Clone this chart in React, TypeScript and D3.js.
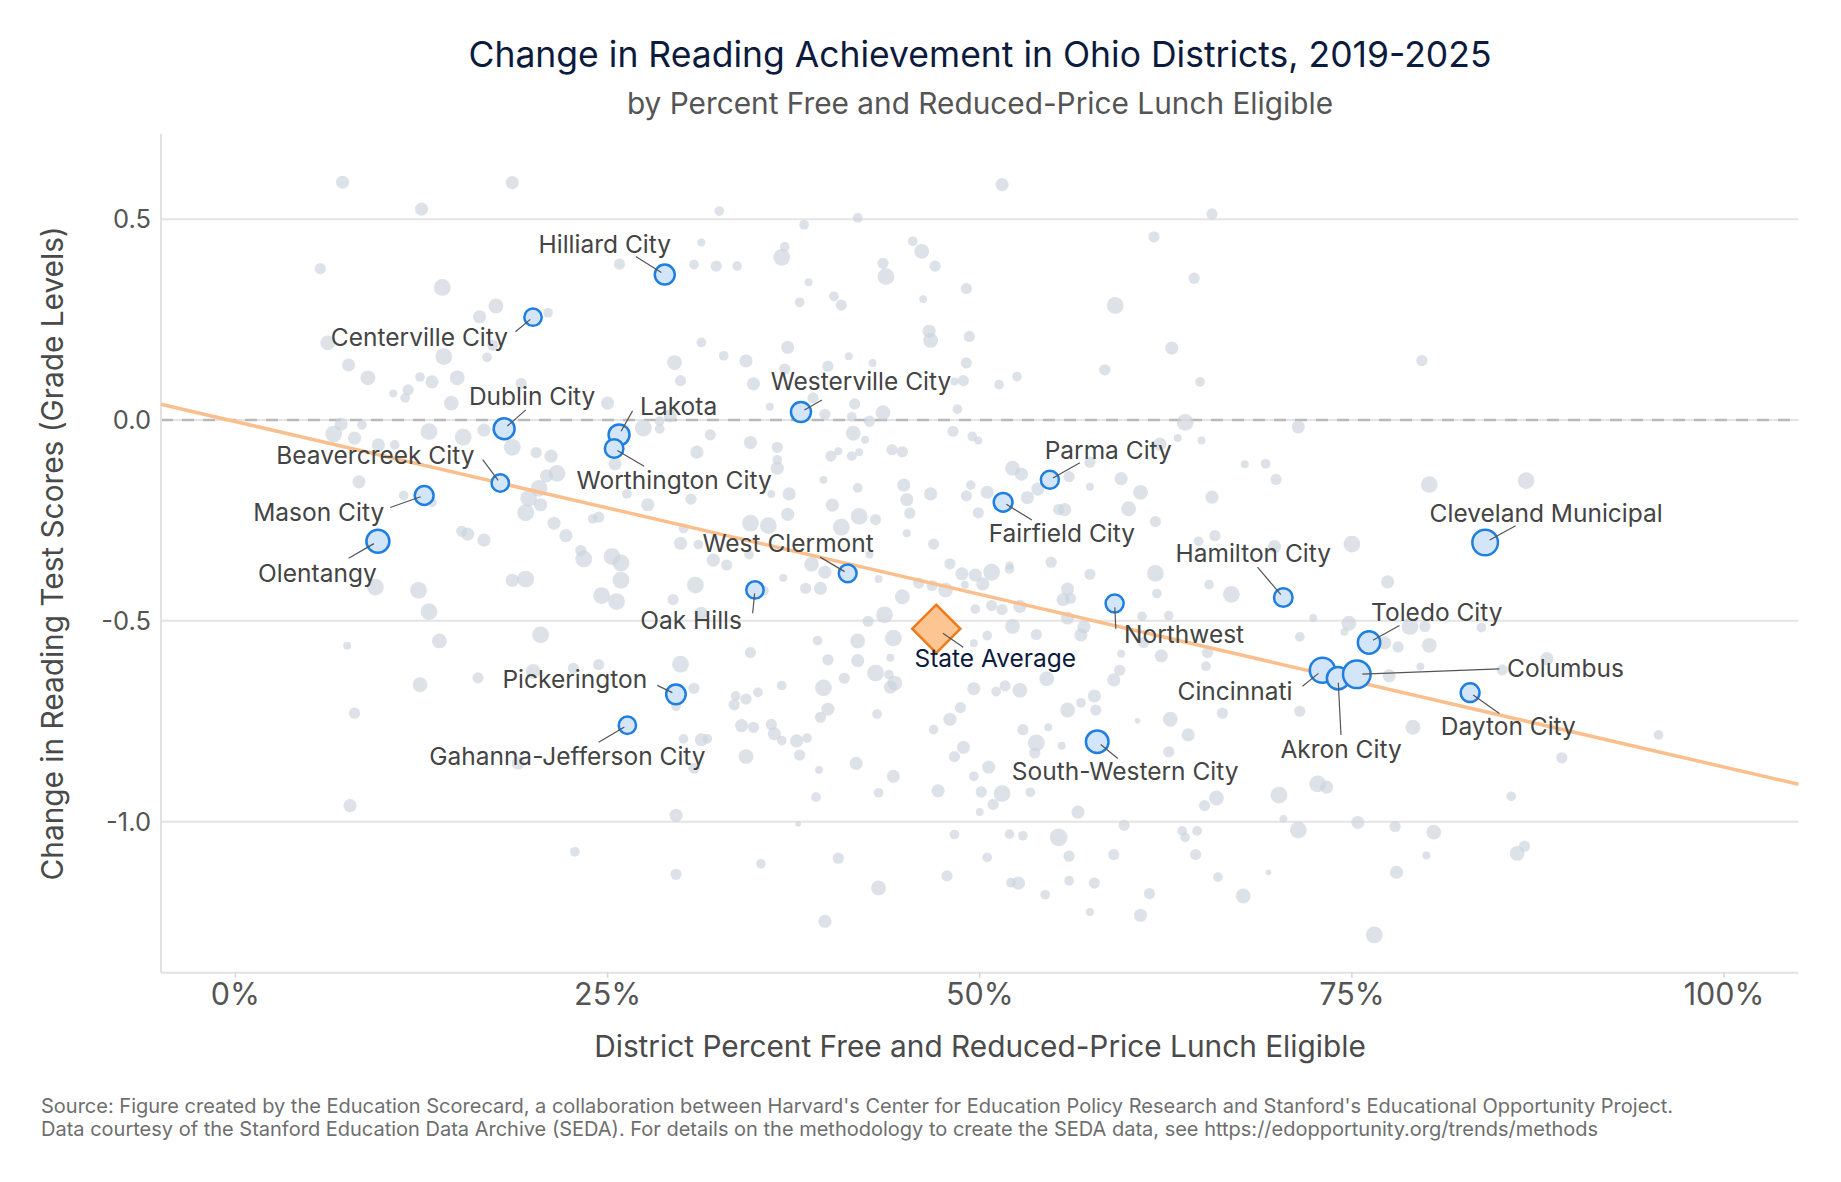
import React from 'react';
import * as d3 from 'd3';

// ---------- DATA ----------
const xTicks = [0, 0.25, 0.5, 0.75, 1];
const yTicks = [0.5, 0, -0.5, -1];

// Regression trend
const trendIntercept = -0.004;
const trendSlope = -0.86;

// Other districts: [percent FRL (0-100), change in grade levels, enrollment (thousands)]
const otherDistricts: [number, number, number][] = [
  [7.2, 0.592, 11], [18.6, 0.591, 11], [12.5, 0.525, 11], [5.7, 0.377, 8], [13.9, 0.33, 18],
  [17.5, 0.284, 14], [16.4, 0.257, 11], [21.0, 0.267, 6], [25.8, 0.388, 8], [30.8, 0.387, 6],
  [31.3, 0.442, 4], [6.2, 0.192, 14], [7.6, 0.137, 11], [8.9, 0.105, 14], [14.0, 0.158, 18],
  [16.9, 0.156, 6], [12.4, 0.107, 6], [13.2, 0.095, 11], [14.9, 0.105, 14], [11.6, 0.075, 8],
  [10.6, 0.066, 4], [11.4, 0.055, 6], [14.5, 0.042, 14], [19.2, 0.091, 8], [25.0, 0.042, 11],
  [29.5, 0.143, 14], [29.9, 0.098, 8], [31.3, 0.193, 6], [17.3, 0.186, 8], [7.1, -0.01, 11],
  [6.6, -0.035, 18], [8.5, -0.012, 6], [8.0, -0.045, 11], [9.6, -0.062, 11], [10.7, -0.062, 6],
  [13.0, -0.029, 18], [15.3, -0.043, 18], [16.7, -0.025, 11], [18.6, -0.068, 18], [20.2, -0.081, 8],
  [21.2, -0.09, 11], [27.4, -0.02, 18], [28.5, -0.022, 6], [28.5, -0.003, 6], [29.2, 0.01, 11],
  [31.0, -0.08, 11], [25.5, -0.109, 11], [8.3, -0.154, 11], [11.3, -0.188, 6], [13.2, -0.205, 6],
  [20.9, -0.139, 11], [21.6, -0.133, 18], [20.4, -0.17, 18], [19.7, -0.195, 18], [20.5, -0.211, 11],
  [19.5, -0.231, 18], [21.4, -0.257, 11], [22.2, -0.288, 11], [24.0, -0.246, 6], [24.4, -0.242, 8],
  [26.3, -0.184, 6], [27.7, -0.211, 11], [30.6, -0.197, 8], [30.1, -0.27, 6], [29.9, -0.307, 11],
  [15.2, -0.277, 8], [15.6, -0.284, 11], [16.7, -0.299, 11], [23.2, -0.325, 8], [31.1, -0.31, 6],
  [9.4, -0.416, 18], [12.3, -0.424, 18], [13.0, -0.477, 18], [18.6, -0.399, 11], [19.5, -0.396, 18],
  [23.4, -0.346, 18], [25.3, -0.34, 18], [25.9, -0.356, 18], [25.9, -0.399, 18], [24.6, -0.437, 18],
  [25.6, -0.452, 18], [29.4, -0.447, 8], [30.9, -0.411, 18], [31.3, -0.481, 11], [7.5, -0.562, 4],
  [13.7, -0.55, 14], [20.5, -0.535, 18], [12.4, -0.659, 14], [16.3, -0.642, 8], [8.0, -0.73, 8],
  [20.0, -0.626, 14], [22.7, -0.618, 8], [24.4, -0.609, 8], [29.9, -0.608, 18], [30.8, -0.668, 8],
  [29.6, -0.713, 6], [30.1, -0.794, 6], [31.3, -0.796, 11], [30.8, -0.867, 8], [19.0, -0.854, 11],
  [7.7, -0.96, 11], [29.6, -0.984, 11], [22.8, -1.075, 6], [29.6, -1.131, 8],
  [51.5, 0.586, 11], [32.5, 0.52, 6], [41.8, 0.503, 6], [38.2, 0.486, 6], [65.6, 0.513, 8],
  [61.7, 0.456, 8], [36.9, 0.431, 6], [36.7, 0.405, 18], [32.3, 0.383, 8], [33.7, 0.383, 6],
  [45.5, 0.445, 6], [46.1, 0.42, 14], [43.5, 0.39, 8], [43.7, 0.357, 18], [47.0, 0.383, 8],
  [38.5, 0.343, 4], [49.1, 0.327, 8], [40.2, 0.308, 6], [40.7, 0.286, 8], [37.9, 0.293, 6],
  [46.2, 0.301, 4], [64.4, 0.353, 8], [59.1, 0.285, 18], [46.6, 0.221, 11], [46.7, 0.198, 14],
  [49.3, 0.208, 8], [62.9, 0.179, 11], [37.1, 0.181, 11], [32.8, 0.16, 6], [34.3, 0.147, 11],
  [41.2, 0.159, 4], [39.8, 0.134, 8], [42.8, 0.142, 4], [49.1, 0.142, 8], [36.9, 0.127, 8],
  [58.4, 0.125, 8], [52.5, 0.108, 6], [51.3, 0.088, 6], [48.9, 0.098, 8], [48.3, 0.096, 4],
  [64.8, 0.095, 6], [34.8, 0.09, 11], [35.9, 0.033, 4], [38.8, 0.055, 8], [39.6, 0.014, 8],
  [41.6, 0.04, 8], [41.4, 0.008, 6], [43.5, 0.018, 14], [42.6, -0.003, 8], [48.5, 0.027, 6],
  [63.8, -0.006, 18], [31.9, -0.037, 8], [34.6, -0.056, 11], [36.4, -0.068, 8], [41.5, -0.033, 14],
  [42.3, -0.049, 4], [40.5, -0.078, 4], [40.0, -0.09, 8], [41.4, -0.09, 6], [41.9, -0.08, 4],
  [44.1, -0.074, 8], [44.8, -0.079, 8], [48.2, -0.028, 8], [49.5, -0.041, 6], [49.9, -0.051, 4],
  [63.3, -0.045, 4], [64.9, -0.051, 4], [36.4, -0.099, 6], [36.4, -0.12, 11], [36.0, -0.184, 4],
  [37.2, -0.184, 11], [39.5, -0.149, 4], [41.8, -0.169, 6], [44.9, -0.162, 11], [45.1, -0.198, 11],
  [46.7, -0.184, 11], [45.3, -0.232, 8], [40.1, -0.212, 11], [41.9, -0.24, 18], [43.0, -0.248, 8],
  [37.1, -0.235, 11], [34.6, -0.257, 18], [35.8, -0.263, 18], [40.7, -0.267, 18], [45.1, -0.282, 4],
  [46.9, -0.309, 8], [49.4, -0.162, 6], [49.1, -0.189, 8], [50.5, -0.18, 11], [49.9, -0.231, 8],
  [52.2, -0.12, 14], [52.8, -0.135, 11], [53.2, -0.193, 11], [53.9, -0.172, 11], [56.0, -0.141, 8],
  [57.4, -0.166, 4], [57.4, -0.105, 8], [59.5, -0.146, 11], [60.8, -0.18, 14], [60.0, -0.221, 14],
  [55.3, -0.223, 8], [55.7, -0.223, 11], [61.8, -0.253, 8], [65.6, -0.192, 11], [67.8, -0.11, 4],
  [65.8, -0.288, 8], [64.7, -0.302, 6], [62.1, -0.06, 11],
  [79.7, 0.148, 8], [71.4, -0.017, 11], [69.2, -0.109, 6], [69.9, -0.148, 8], [80.2, -0.161, 18],
  [86.7, -0.151, 18], [75.0, -0.309, 18], [69.8, -0.315, 11],
  [32.1, -0.349, 11], [33.0, -0.361, 8], [34.5, -0.335, 6], [38.7, -0.359, 14], [39.6, -0.379, 11],
  [36.8, -0.393, 4], [35.5, -0.425, 6], [38.3, -0.419, 8], [39.3, -0.419, 11], [43.2, -0.396, 4],
  [42.6, -0.335, 4], [44.8, -0.44, 14], [45.9, -0.406, 8], [46.8, -0.412, 8], [47.7, -0.423, 14],
  [48.0, -0.358, 8], [48.8, -0.383, 11], [49.0, -0.41, 4], [49.7, -0.386, 11], [50.2, -0.408, 11],
  [50.8, -0.379, 18], [52.0, -0.371, 6], [52.0, -0.362, 4], [54.8, -0.354, 8], [57.4, -0.384, 8],
  [55.9, -0.421, 11], [55.6, -0.447, 11], [56.1, -0.444, 8], [55.9, -0.493, 11], [57.0, -0.515, 11],
  [56.8, -0.535, 11], [61.8, -0.382, 18], [61.9, -0.432, 6], [65.4, -0.41, 6], [66.9, -0.434, 18],
  [60.9, -0.489, 6], [62.7, -0.487, 6], [61.0, -0.554, 8], [59.5, -0.582, 4], [59.4, -0.623, 8],
  [59.0, -0.647, 11], [62.2, -0.587, 11], [65.3, -0.579, 8], [65.2, -0.613, 6], [66.3, -0.73, 8],
  [62.8, -0.745, 14], [64.0, -0.784, 11], [60.6, -0.749, 2], [62.7, -0.826, 8], [57.7, -0.687, 11],
  [56.8, -0.704, 6], [57.8, -0.722, 8], [55.9, -0.722, 14], [54.5, -0.644, 14], [52.7, -0.673, 14],
  [51.7, -0.662, 8], [51.1, -0.676, 6], [49.6, -0.669, 11], [48.7, -0.716, 8], [48.0, -0.745, 11],
  [46.9, -0.771, 6], [48.9, -0.815, 11], [48.3, -0.838, 8], [50.6, -0.864, 11], [49.6, -0.887, 6],
  [52.9, -0.771, 8], [54.6, -0.765, 4], [53.8, -0.804, 18], [53.7, -0.829, 8], [55.5, -0.811, 4],
  [52.2, -0.514, 14], [53.8, -0.534, 8], [50.5, -0.537, 6], [49.6, -0.556, 4], [52.7, -0.464, 11],
  [51.5, -0.472, 8], [49.7, -0.471, 6], [50.8, -0.462, 8], [43.6, -0.485, 18], [42.5, -0.501, 8],
  [44.2, -0.543, 18], [41.8, -0.55, 14], [39.1, -0.549, 6], [34.6, -0.579, 8], [39.8, -0.597, 8],
  [41.8, -0.599, 11], [44.0, -0.592, 4], [43.0, -0.63, 18], [43.9, -0.634, 6], [44.3, -0.655, 14],
  [44.0, -0.665, 11], [40.9, -0.643, 8], [39.5, -0.667, 18], [36.7, -0.661, 6], [35.1, -0.678, 6],
  [34.3, -0.695, 8], [33.6, -0.687, 6], [33.5, -0.709, 8], [39.8, -0.72, 11], [39.3, -0.74, 8],
  [43.1, -0.732, 6], [34.0, -0.761, 11], [34.8, -0.765, 8], [36.0, -0.758, 8], [36.2, -0.781, 11],
  [36.7, -0.798, 6], [37.7, -0.799, 11], [38.4, -0.792, 6], [31.7, -0.794, 6], [34.3, -0.838, 14],
  [37.9, -0.834, 8], [39.2, -0.871, 4], [41.7, -0.855, 11], [44.2, -0.887, 11], [43.2, -0.928, 6],
  [39.0, -0.939, 6], [47.2, -0.923, 11], [50.1, -0.926, 8], [51.5, -0.93, 18], [50.9, -0.957, 8],
  [50.0, -0.976, 4], [53.4, -0.927, 6], [56.6, -0.976, 11], [59.7, -1.009, 8], [55.3, -1.039, 20],
  [52.9, -1.035, 6], [52.0, -1.031, 6], [48.3, -1.032, 6], [37.8, -1.005, 2], [35.3, -1.105, 6],
  [40.5, -1.091, 8], [50.5, -1.089, 6], [56.0, -1.086, 8], [59.0, -1.082, 8], [64.5, -1.082, 8],
  [63.6, -1.023, 6], [63.8, -1.039, 6], [64.6, -1.023, 6], [65.9, -0.941, 14], [65.1, -0.96, 8],
  [47.8, -1.135, 8], [43.2, -1.165, 14], [39.6, -1.248, 11], [52.1, -1.152, 6], [52.6, -1.153, 11],
  [56.0, -1.147, 6], [57.7, -1.153, 8], [54.4, -1.182, 6], [57.4, -1.225, 4], [60.8, -1.233, 11],
  [61.4, -1.179, 8], [66.0, -1.138, 6], [67.7, -1.185, 14],
  [77.4, -0.403, 11], [72.4, -0.493, 4], [74.8, -0.506, 14], [74.5, -0.527, 4], [71.5, -0.54, 6],
  [78.9, -0.514, 18], [79.9, -0.514, 8], [83.7, -0.517, 6], [77.2, -0.555, 11], [78.1, -0.565, 8],
  [80.2, -0.561, 14], [88.1, -0.594, 11], [79.6, -0.614, 4], [77.5, -0.637, 11], [85.1, -0.622, 8],
  [71.5, -0.725, 8], [79.1, -0.765, 14], [95.6, -0.784, 6], [89.1, -0.841, 8], [85.7, -0.937, 6],
  [72.7, -0.906, 18], [73.3, -0.914, 11], [70.1, -0.934, 18], [70.4, -0.993, 4], [71.4, -1.021, 18],
  [75.4, -1.002, 11], [77.9, -1.012, 8], [80.5, -1.026, 14], [80.0, -1.084, 4], [86.1, -1.079, 14],
  [86.6, -1.061, 8], [69.4, -1.126, 2], [78.0, -1.126, 11], [76.5, -1.282, 18],
];

// Highlighted districts
const districtNames = [
  'Hilliard City', 'Centerville City', 'Dublin City', 'Lakota', 'Worthington City',
  'Beavercreek City', 'Mason City', 'Olentangy', 'Westerville City', 'Parma City',
  'Fairfield City', 'Pickerington', 'Gahanna-Jefferson City', 'Oak Hills', 'West Clermont',
  'Northwest', 'South-Western City', 'Hamilton City', 'Toledo City', 'Cincinnati',
  'Akron City', 'Columbus', 'Dayton City', 'Cleveland Municipal',
];
const districtFrl = [
  28.84, 19.99, 18.05, 25.77, 25.44, 17.79, 12.68, 9.57, 37.99, 54.71,
  51.57, 29.59, 26.33, 34.90, 41.13, 59.06, 57.89, 70.39, 76.15, 73.02,
  74.07, 75.33, 82.94, 83.95,
];
const districtChange = [
  0.362, 0.256, -0.022, -0.037, -0.071, -0.157, -0.188, -0.302, 0.020, -0.149,
  -0.205, -0.683, -0.760, -0.423, -0.382, -0.457, -0.801, -0.442, -0.554, -0.623,
  -0.643, -0.633, -0.679, -0.305,
];
const districtEnroll = [
  25.5, 19.3, 28, 28, 22, 19.3, 22.5, 33.7, 25.5, 20.7,
  22.5, 24.5, 19.3, 19.3, 20.2, 20.7, 32.6, 22, 32, 40.5,
  32, 48.6, 22.5, 41.8,
];

const stateAverage = { name: 'State Average', frl: 47.08, change: -0.52 };

// ---------- LAYOUT ----------
const W = 1841;
const H = 1182;
const plot = { left: 161, right: 1798.5, top: 134, bottom: 972.7 };

// label placement: text offset from point (baseline), anchor, leader end offset
const labelLayout: Record<string, { dx: number; dy: number; anchor: string; lx: number; ly: number }> = {
  'Hilliard City': { dx: -60, dy: -21.4, anchor: 'middle', lx: -29, ly: -18 },
  'Centerville City': { dx: -25, dy: 29, anchor: 'end', lx: -17.6, ly: 14.6 },
  'Westerville City': { dx: 60, dy: -22, anchor: 'middle', lx: 21, ly: -12 },
  'Dublin City': { dx: 28, dy: -24, anchor: 'middle', lx: 21.7, ly: -19 },
  'Lakota': { dx: 21, dy: -20, anchor: 'start', lx: 13.5, ly: -24 },
  'Worthington City': { dx: 60, dy: 40, anchor: 'middle', lx: 30, ly: 17.7 },
  'Beavercreek City': { dx: -25.8, dy: -19.4, anchor: 'end', lx: -17.6, ly: -23.4 },
  'Mason City': { dx: -40, dy: 25.4, anchor: 'end', lx: -34, ly: 12 },
  'Olentangy': { dx: -60.5, dy: 40.4, anchor: 'middle', lx: -29.3, ly: 17 },
  'West Clermont': { dx: -59.6, dy: -21.3, anchor: 'middle', lx: -27.6, ly: -16.3 },
  'Oak Hills': { dx: -13, dy: 39.3, anchor: 'end', lx: -2.3, ly: 23.3 },
  'Pickerington': { dx: -28.7, dy: -6.7, anchor: 'end', lx: -18.7, ly: -9 },
  'Gahanna-Jefferson City': { dx: -60, dy: 39.3, anchor: 'middle', lx: -28.7, ly: 17 },
  'Parma City': { dx: 58.4, dy: -21, anchor: 'middle', lx: 30, ly: -17 },
  'Fairfield City': { dx: 58.7, dy: 39.4, anchor: 'middle', lx: 28.8, ly: 17.7 },
  'Northwest': { dx: 9.4, dy: 39.3, anchor: 'start', lx: 1.2, ly: 25.3 },
  'Hamilton City': { dx: -30, dy: -35.7, anchor: 'middle', lx: -25.8, ly: -30.3 },
  'Cleveland Municipal': { dx: 61, dy: -21, anchor: 'middle', lx: 30.5, ly: -16.7 },
  'Toledo City': { dx: 67.8, dy: -22, anchor: 'middle', lx: 30.5, ly: -17 },
  'Columbus': { dx: 150.3, dy: 2.6, anchor: 'start', lx: 142.6, ly: -5.3 },
  'Cincinnati': { dx: -30, dy: 29.3, anchor: 'end', lx: -20, ly: 16 },
  'Akron City': { dx: 3, dy: 80, anchor: 'middle', lx: 2.9, ly: 56.7 },
  'Dayton City': { dx: 38.2, dy: 42.3, anchor: 'middle', lx: 29.3, ly: 20.7 },
  'South-Western City': { dx: 28, dy: 38.3, anchor: 'middle', lx: 20.6, ly: 16.7 },
  'State Average': { dx: 59, dy: 38.3, anchor: 'middle', lx: 27, ly: 18.3 },
};

const FONT = 'Inter, "Noto Sans", sans-serif';

export default function App() {
  const x = d3.scaleLinear().domain([-0.05, 1.05]).range([plot.left, plot.right]);
  const y = d3.scaleLinear().domain([-1.376, 0.712]).range([plot.bottom, plot.top]);
  const r = d3.scaleSqrt().domain([0, 50]).range([0, 14]);
  const fmtY = (v: number) => (v < 0 ? '-' : '') + Math.abs(v).toFixed(1);
  const fmtX = d3.format('.0%');

  const trendX = x.domain();
  const trendLine = d3.line<number>()
    .x((d) => x(d))
    .y((d) => y(trendIntercept + trendSlope * d))(trendX);

  const highlighted = districtNames.map((name, i) => ({
    name,
    px: x(districtFrl[i] / 100),
    py: y(districtChange[i]),
    rr: r(districtEnroll[i]),
  }));

  const sa = { px: x(stateAverage.frl / 100), py: y(stateAverage.change), rr: 24 };
  const diamond = d3.symbol().type(d3.symbolSquare).size(34 * 34)();

  const leader = (px: number, py: number, rr: number, lx: number, ly: number) => {
    const len = Math.hypot(lx, ly) || 1;
    const sx = px + (lx / len) * rr * 0.4;
    const sy = py + (ly / len) * rr * 0.4;
    return { x1: sx, y1: sy, x2: px + lx, y2: py + ly };
  };

  return (
    <svg width={W} height={H} style={{ position: 'absolute', left: 0, top: 0, background: '#fff' }}
      fontFamily={FONT}>
      {/* Title */}
      <text x={980} y={67} textAnchor="middle" fontSize={35.5} fill="#0c1a3d">
        Change in Reading Achievement in Ohio Districts, 2019-2025
      </text>
      <text x={980} y={114} textAnchor="middle" fontSize={29.8} fill="#555">
        by Percent Free and Reduced-Price Lunch Eligible
      </text>

      {/* gridlines */}
      {yTicks.map((t) => (
        <line key={'g' + t} x1={plot.left} x2={plot.right} y1={y(t)} y2={y(t)} stroke="#e4e4e4" strokeWidth={2} />
      ))}
      <line x1={plot.left} x2={plot.right} y1={y(0)} y2={y(0)} stroke="#b9b9b9" strokeWidth={2.5} strokeDasharray="12,9" />

      {/* axes */}
      <line x1={plot.left} x2={plot.left} y1={plot.top} y2={plot.bottom} stroke="#e2e2e2" strokeWidth={2} />
      <line x1={plot.left} x2={plot.right} y1={plot.bottom} y2={plot.bottom} stroke="#e2e2e2" strokeWidth={2} />
      {xTicks.map((t) => (
        <g key={'x' + t}>
          <line x1={x(t)} x2={x(t)} y1={plot.bottom} y2={plot.bottom + 5} stroke="#d6d6d6" strokeWidth={1.5} />
          <text x={x(t)} y={1005} textAnchor="middle" fontSize={30.5} fill="#555">{fmtX(t)}</text>
        </g>
      ))}
      {yTicks.map((t) => (
        <text key={'yl' + t} x={151} y={y(t)} dy="0.36em" textAnchor="end" fontSize={25.5} fill="#555">{fmtY(t)}</text>
      ))}

      {/* axis titles */}
      <text x={980} y={1057} textAnchor="middle" fontSize={29.8} fill="#4a4a4a">
        District Percent Free and Reduced-Price Lunch Eligible
      </text>
      <text transform={`translate(63, ${(plot.top + plot.bottom) / 2}) rotate(-90)`} textAnchor="middle" fontSize={29.8} fill="#4a4a4a">
        Change in Reading Test Scores (Grade Levels)
      </text>

      {/* background districts */}
      <g>
        {otherDistricts.map((d, i) => (
          <circle key={'o' + i} cx={x(d[0] / 100)} cy={y(d[1])} r={r(d[2])} fill="#c9d2dc" fillOpacity={0.65} />
        ))}
      </g>

      {/* trend */}
      <path d={trendLine || ''} fill="none" stroke="#fbbf8d" strokeWidth={3.5} />

      {/* highlighted districts */}
      {highlighted.map((h) => (
        <circle key={'h' + h.name} cx={h.px} cy={h.py} r={h.rr} fill="#d3e5f8" stroke="#1f7fe0" strokeWidth={2.5} />
      ))}
      <path d={diamond || ''} transform={`translate(${sa.px},${sa.py}) rotate(45)`} fill="#fcc592" stroke="#f07a1a" strokeWidth={2.5} />

      {/* leaders & labels */}
      {highlighted.map((h) => {
        const L = labelLayout[h.name];
        const l = leader(h.px, h.py, h.rr, L.lx, L.ly);
        return (
          <g key={'l' + h.name}>
            <line {...l} stroke="#555" strokeWidth={1.2} />
            <text x={h.px + L.dx} y={h.py + L.dy} textAnchor={L.anchor as any} fontSize={24.5} fill="#444">{h.name}</text>
          </g>
        );
      })}
      {(() => {
        const L = labelLayout['State Average'];
        const l = leader(sa.px, sa.py, 20, L.lx, L.ly);
        return (
          <g>
            <line {...l} stroke="#555" strokeWidth={1.2} />
            <text x={sa.px + L.dx} y={sa.py + L.dy} textAnchor="middle" fontSize={24.5} fill="#0c1a3d">{stateAverage.name}</text>
          </g>
        );
      })()}

      {/* footnote */}
      <text x={41} y={1113} fontSize={20} fill="#6e6e6e">
        Source: Figure created by the Education Scorecard, a collaboration between Harvard's Center for Education Policy Research and Stanford's Educational Opportunity Project.
      </text>
      <text x={41} y={1136} fontSize={20} fill="#6e6e6e">
        Data courtesy of the Stanford Education Data Archive (SEDA). For details on the methodology to create the SEDA data, see https://edopportunity.org/trends/methods
      </text>
    </svg>
  );
}
